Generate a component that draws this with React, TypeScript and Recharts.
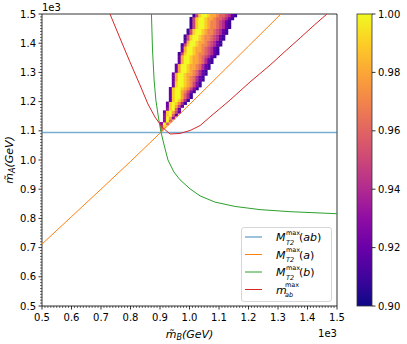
import React from 'react';
import { ComposedChart, Scatter, XAxis, YAxis, Legend, ReferenceArea } from 'recharts';

// ---------- data (units of 1e3 GeV) ----------
const majorTickLabels = ['0.5', '0.6', '0.7', '0.8', '0.9', '1.0', '1.1', '1.2', '1.3', '1.4', '1.5'];
const colorbarTicks = [0.9, 0.92, 0.94, 0.96, 0.98, 1.0];

const mt2abCurve = [
  { x: 0.5, y: 1.094 },
  { x: 1.5, y: 1.094 },
];
const mt2aCurve = [
  { x: 0.5, y: 0.712 }, { x: 0.6, y: 0.806 }, { x: 0.7, y: 0.9 }, { x: 0.8, y: 0.995 },
  { x: 0.9, y: 1.092 }, { x: 1.0, y: 1.19 }, { x: 1.1, y: 1.29 }, { x: 1.2, y: 1.39 }, { x: 1.31, y: 1.5 },
];
const mt2bCurve = [
  { x: 0.871, y: 1.5 }, { x: 0.8746, y: 1.377 }, { x: 0.88, y: 1.274 }, { x: 0.886, y: 1.205 },
  { x: 0.895, y: 1.144 }, { x: 0.903, y: 1.097 }, { x: 0.914, y: 1.051 }, { x: 0.927, y: 1.0 },
  { x: 0.947, y: 0.959 }, { x: 0.968, y: 0.932 }, { x: 1.002, y: 0.901 }, { x: 1.036, y: 0.877 },
  { x: 1.086, y: 0.856 }, { x: 1.154, y: 0.841 }, { x: 1.239, y: 0.83 }, { x: 1.341, y: 0.823 },
  { x: 1.5, y: 0.816 },
];
const mabCurve = [
  { x: 0.7305, y: 1.5 }, { x: 0.764, y: 1.418 }, { x: 0.798, y: 1.336 }, { x: 0.832, y: 1.257 },
  { x: 0.859, y: 1.192 }, { x: 0.883, y: 1.147 }, { x: 0.907, y: 1.113 }, { x: 0.934, y: 1.089 },
  { x: 0.968, y: 1.091 }, { x: 1.002, y: 1.101 }, { x: 1.036, y: 1.118 }, { x: 1.069, y: 1.147 },
  { x: 1.103, y: 1.176 }, { x: 1.137, y: 1.205 }, { x: 1.171, y: 1.236 }, { x: 1.205, y: 1.267 },
  { x: 1.239, y: 1.296 }, { x: 1.273, y: 1.325 }, { x: 1.324, y: 1.372 }, { x: 1.375, y: 1.418 },
  { x: 1.425, y: 1.464 }, { x: 1.466, y: 1.5 },
];

// heatmap rows: y bin start, x bin start, per-cell values (digit d -> 0.90 + d*0.01, A -> 1.00)
const heatRowY = [1.10, 1.11, 1.12, 1.13, 1.14, 1.15, 1.16, 1.17, 1.18, 1.19, 1.20, 1.21, 1.22, 1.23, 1.24, 1.25, 1.26, 1.27, 1.28, 1.29, 1.30, 1.31, 1.32, 1.33, 1.34, 1.35, 1.36, 1.37, 1.38, 1.39, 1.40, 1.41, 1.42, 1.43, 1.44, 1.45, 1.46, 1.47, 1.48, 1.49];
const heatRowX = [0.90, 0.90, 0.90, 0.91, 0.91, 0.91, 0.91, 0.92, 0.92, 0.92, 0.93, 0.93, 0.93, 0.93, 0.93, 0.94, 0.94, 0.94, 0.94, 0.94, 0.95, 0.95, 0.95, 0.96, 0.96, 0.96, 0.96, 0.97, 0.97, 0.97, 0.98, 0.98, 0.98, 0.99, 0.99, 1.00, 1.00, 1.00, 1.00, 1.01];
const heatRowVals = [
  '6', '59', '3A6', '3A6', '3A83', '39A62', '29A852', '39A62', '29A852', '29A9741',
  '29A9741', '29AA8641', '29AA8641', '29AA87531', '29AA987531', '29AA987531', '29AA987531', '28AA9876421', '28AA9876421', '28AA98876421',
  '28AA9876421', '28AA98876421', '28AA98876421', '28AA98876421', '28AA98876421', '28AA988765421', '159AA987765421', '28AA988765421', '28AA988765421', '159AA987765421',
  '28AA988765421', '159AA987765421', '159AA987765421', '159AA987765421', '159AA987765421', '159AA987765421', '159AA987765421', '159AA987765421', '159AA9887665421', '159AA9887665421',
];

// ---------- layout constants ----------
const CHART_W = 345;
const CHART_H = 344;
const PLOT_L = 42;
const PLOT_R = 337;
const PLOT_T = 14;
const PLOT_B = 306;
const CELL = 0.01;
const FONT = '"DejaVu Sans", sans-serif';

const PLASMA = ['#0d0887', '#41049d', '#6a00a8', '#8f0da4', '#b12a90', '#cc4778', '#e16462', '#f2844b', '#fca636', '#fcce25', '#f0f921'];

function hexToRgb(h: string) {
  return [parseInt(h.slice(1, 3), 16), parseInt(h.slice(3, 5), 16), parseInt(h.slice(5, 7), 16)];
}
function plasma(t: number) {
  const c = Math.max(0, Math.min(1, t)) * (PLASMA.length - 1);
  const i = Math.min(PLASMA.length - 2, Math.floor(c));
  const f = c - i;
  const a = hexToRgb(PLASMA[i]);
  const b = hexToRgb(PLASMA[i + 1]);
  const m = a.map((v, k) => Math.round(v + (b[k] - v) * f));
  return `rgb(${m[0]},${m[1]},${m[2]})`;
}

const heatCells = heatRowY.flatMap((y, r) =>
  heatRowVals[r].split('').map((ch, k) => ({
    x: +(heatRowX[r] + k * CELL + CELL / 2).toFixed(4),
    y: +(y + CELL / 2).toFixed(4),
    v: ch === 'A' ? 1.0 : 0.9 + parseInt(ch, 10) * 0.01,
  }))
);

const majorVals = majorTickLabels.map(Number);
const allTicks = majorVals.flatMap((v, i) =>
  i < majorVals.length - 1 ? Array.from({ length: 10 }, (_, k) => Math.round((v + k * 0.01) * 100) / 100) : [v]
);
const isMajor = (v: number) => Math.abs(v * 10 - Math.round(v * 10)) < 1e-6;

const cellW = CELL * (PLOT_R - PLOT_L);
const cellH = CELL * (PLOT_B - PLOT_T);

const HeatShape = (props: any) => {
  const { cx, cy, payload } = props;
  if (cx == null || cy == null) return <g />;
  return (
    <rect
      x={cx - cellW / 2}
      y={cy - cellH / 2}
      width={cellW + 0.4}
      height={cellH + 0.4}
      fill={plasma((payload.v - 0.9) / 0.1)}
      stroke="none"
    />
  );
};
const NoShape = () => <g />;

const XTick = (props: any) => {
  const { x, y, payload } = props;
  const v = payload.value;
  const maj = isMajor(v);
  return (
    <g>
      <line x1={x} x2={x} y1={y} y2={y + (maj ? 3.5 : 2)} stroke="#000" strokeWidth={maj ? 0.8 : 0.6} />
      {maj && (
        <text x={x} y={y + 15} textAnchor="middle" fontFamily={FONT} fontSize={10} fill="#000">
          {v.toFixed(1)}
        </text>
      )}
    </g>
  );
};
const YTick = (props: any) => {
  const { x, y, payload } = props;
  const v = payload.value;
  const maj = isMajor(v);
  return (
    <g>
      <line x1={x} x2={x - (maj ? 3.5 : 2)} y1={y} y2={y} stroke="#000" strokeWidth={maj ? 0.8 : 0.6} />
      {maj && (
        <text x={x - 6} y={y + 3.6} textAnchor="end" fontFamily={FONT} fontSize={10} fill="#000">
          {v.toFixed(1)}
        </text>
      )}
    </g>
  );
};

const legendItems = [
  { color: '#1f77b4', opacity: 0.6, width: 1.5, main: 'M', sub: 'T2', tail: 'ab' },
  { color: '#ff7f0e', opacity: 1, width: 1, main: 'M', sub: 'T2', tail: 'a' },
  { color: '#2ca02c', opacity: 1, width: 1, main: 'M', sub: 'T2', tail: 'b' },
  { color: '#d62728', opacity: 1, width: 1, main: 'm', sub: 'ab', tail: '' },
];

const LegendBox = () => (
  <svg width={91} height={75} style={{ overflow: 'visible', display: 'block' }}>
    <rect x={0.5} y={0.5} width={90} height={74} rx={2.5} fill="#fff" fillOpacity={0.8} stroke="#ccc" strokeWidth={0.8} />
    {legendItems.map((it, i) => {
      const cy = 10 + i * 17.5;
      const tx = 35;
      const mw = it.main === 'M' ? 10 : 9;
      return (
        <g key={i}>
          <line x1={4} x2={21} y1={cy} y2={cy} stroke={it.color} strokeOpacity={it.opacity} strokeWidth={it.width} />
          <text fontFamily={FONT} fill="#000">
            <tspan x={tx} y={cy + 4} fontSize={11} fontStyle="italic">{it.main}</tspan>
            <tspan x={tx + mw} y={cy - 2.5} fontSize={6.5}>max</tspan>
            <tspan x={tx + mw} y={cy + 7.5} fontSize={6.5} fontStyle="italic">{it.sub}</tspan>
            {it.tail && <tspan x={tx + mw + 13} y={cy + 4} fontSize={11}>(</tspan>}
            {it.tail && <tspan fontSize={11} fontStyle="italic">{it.tail}</tspan>}
            {it.tail && <tspan fontSize={11}>)</tspan>}
          </text>
        </g>
      );
    })}
  </svg>
);

const Colorbar = () => {
  const x0 = 357;
  const w = 15;
  const y0 = PLOT_T;
  const h = PLOT_B - PLOT_T;
  return (
    <svg width={407} height={344} style={{ position: 'absolute', left: 0, top: 0, pointerEvents: 'none' }}>
      <defs>
        <linearGradient id="plasmaGrad" x1="0" y1="1" x2="0" y2="0">
          {PLASMA.map((c, i) => (
            <stop key={i} offset={`${(i / (PLASMA.length - 1)) * 100}%`} stopColor={c} />
          ))}
        </linearGradient>
      </defs>
      <rect x={x0} y={y0} width={w} height={h} fill="url(#plasmaGrad)" stroke="#333" strokeWidth={0.8} />
      {colorbarTicks.map((t) => {
        const ty = y0 + h - ((t - 0.9) / 0.1) * h;
        return (
          <g key={t}>
            <line x1={x0 + w} x2={x0 + w + 3.5} y1={ty} y2={ty} stroke="#000" strokeWidth={0.8} />
            <text x={x0 + w + 6} y={ty + 3.6} fontFamily={FONT} fontSize={10} fill="#000">{t.toFixed(2)}</text>
          </g>
        );
      })}
      <text x={PLOT_L} y={11} fontFamily={FONT} fontSize={10} fill="#000">1e3</text>
      <text x={PLOT_R} y={337} textAnchor="end" fontFamily={FONT} fontSize={10} fill="#000">1e3</text>
      <text x={(PLOT_L + PLOT_R) / 2} y={338} textAnchor="middle" fontFamily={FONT} fontSize={11} fontStyle="italic" fill="#000">
        <tspan>m̃</tspan><tspan fontSize={8} dy={2}>B</tspan><tspan dy={-2}>(GeV)</tspan>
      </text>
      <text
        x={0}
        y={0}
        transform={`translate(13, ${(PLOT_T + PLOT_B) / 2}) rotate(-90)`}
        textAnchor="middle"
        fontFamily={FONT}
        fontSize={11}
        fontStyle="italic"
        fill="#000"
      >
        <tspan>m̃</tspan><tspan fontSize={8} dy={2}>A</tspan><tspan dy={-2}>(GeV)</tspan>
      </text>
    </svg>
  );
};

export default function App() {
  return (
    <div style={{ position: 'absolute', left: 0, top: 0, width: 407, height: 344, background: '#fff' }}>
      <ComposedChart
        width={CHART_W}
        height={CHART_H}
        margin={{ top: PLOT_T, right: CHART_W - PLOT_R, bottom: 0, left: 0 }}
      >
        <XAxis
          type="number"
          dataKey="x"
          domain={[0.5, 1.5]}
          ticks={allTicks}
          interval={0}
          allowDataOverflow
          tickSize={0}
          tickMargin={0}
          tick={<XTick />}
          axisLine={false}
          height={CHART_H - PLOT_B}
        />
        <YAxis
          type="number"
          dataKey="y"
          domain={[0.5, 1.5]}
          ticks={allTicks}
          interval={0}
          allowDataOverflow
          tickSize={0}
          tickMargin={0}
          tick={<YTick />}
          axisLine={false}
          width={PLOT_L}
        />
        <Scatter data={heatCells} dataKey="y" shape={HeatShape} isAnimationActive={false} legendType="none" />
        <Scatter data={mt2abCurve} dataKey="y" shape={NoShape} line={{ stroke: '#1f77b4', strokeWidth: 1.5, strokeOpacity: 0.6 }} isAnimationActive={false} />
        <Scatter data={mt2aCurve} dataKey="y" shape={NoShape} line={{ stroke: '#ff7f0e', strokeWidth: 1 }} isAnimationActive={false} />
        <Scatter data={mt2bCurve} dataKey="y" shape={NoShape} line={{ stroke: '#2ca02c', strokeWidth: 1 }} isAnimationActive={false} />
        <Scatter data={mabCurve} dataKey="y" shape={NoShape} line={{ stroke: '#d62728', strokeWidth: 1 }} isAnimationActive={false} />
        <ReferenceArea x1={0.5} x2={1.5} y1={0.5} y2={1.5} fill="none" stroke="#000" strokeWidth={0.8} ifOverflow="visible" />
        <Legend
          layout="vertical"
          align="center"
          verticalAlign="middle"
          wrapperStyle={{ position: 'absolute', left: 241, top: 227, width: 91, height: 75 }}
          content={() => <LegendBox />}
        />
      </ComposedChart>
      <Colorbar />
    </div>
  );
}
